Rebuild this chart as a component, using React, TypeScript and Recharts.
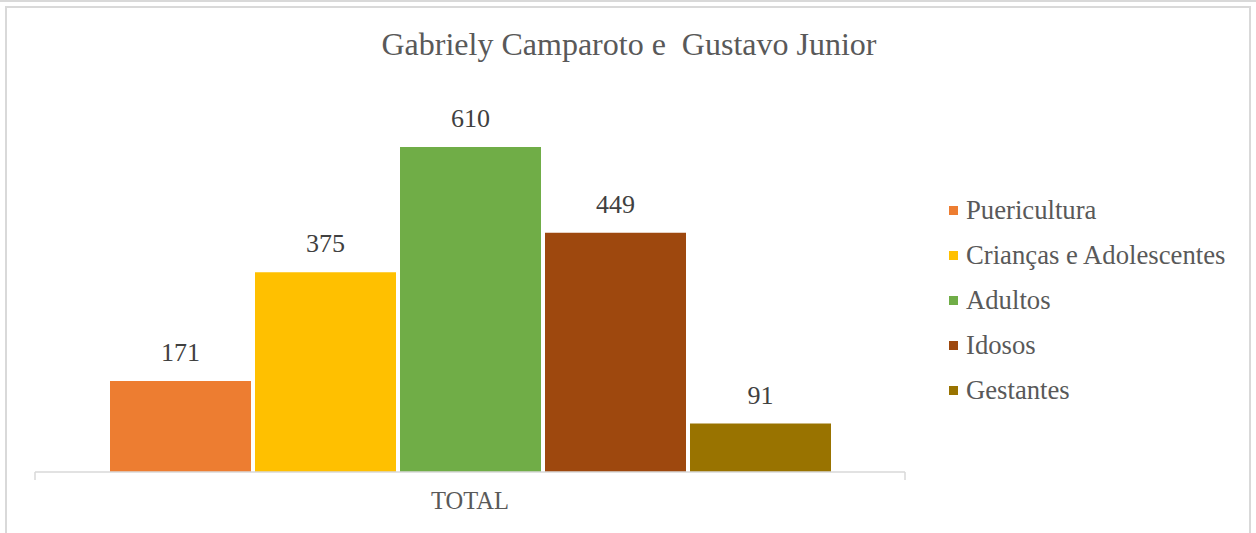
import React from "react";
import { BarChart, Bar, XAxis, YAxis, Legend, LabelList, usePlotArea } from "recharts";

const categories = ["TOTAL"];
const seriesNames = ["Puericultura", "Crianças e Adolescentes", "Adultos", "Idosos", "Gestantes"];
const seriesKeys = ["puericultura", "criancas", "adultos", "idosos", "gestantes"];
const seriesValues = [171, 375, 610, 449, 91];
const seriesColors = ["#ED7D31", "#FFC000", "#70AD47", "#9E480E", "#997300"];
const title = "Gabriely Camparoto e  Gustavo Junior";

const data = categories.map((c) => {
  const row: Record<string, string | number> = { category: c };
  seriesKeys.forEach((k, i) => {
    row[k] = seriesValues[i];
  });
  return row;
});

const FONT = "'Liberation Serif', 'Times New Roman', serif";

function AxisEndTicks() {
  const plot = usePlotArea();
  if (!plot) return null;
  const y = plot.y + plot.height;
  return (
    <g>
      <line x1={plot.x} x2={plot.x} y1={y} y2={y + 8} stroke="#d9d9d9" strokeWidth={1.5} />
      <line x1={plot.x + plot.width} x2={plot.x + plot.width} y1={y} y2={y + 8} stroke="#d9d9d9" strokeWidth={1.5} />
    </g>
  );
}

function LegendContent(props: any) {
  const payload = [...(props.payload || [])].sort(
    (a: any, b: any) => seriesNames.indexOf(a.value) - seriesNames.indexOf(b.value)
  );
  return (
    <div style={{ fontFamily: FONT, fontSize: 26.7, color: "#595959" }}>
      {payload.map((p: any, i: number) => (
        <div key={i} style={{ display: "flex", alignItems: "center", height: 45 }}>
          <span style={{ display: "inline-block", width: 9, height: 9, background: p.color, marginRight: 8 }} />
          <span style={{ whiteSpace: "nowrap" }}>{p.value}</span>
        </div>
      ))}
    </div>
  );
}

export default function App() {
  return (
    <div style={{ position: "absolute", left: 0, top: 0, width: 1256, height: 533, background: "#fff", overflow: "hidden" }}>
      <div style={{ position: "absolute", left: 0, top: 0, width: 1256, height: 2, background: "#d9d9d9" }} />
      <div style={{ position: "absolute", left: 5, top: 6, width: 1246, height: 600, border: "2px solid #d9d9d9", boxSizing: "border-box" }} />
      <div
        style={{
          position: "absolute",
          left: 0,
          top: 22,
          width: 1258,
          textAlign: "center",
          fontFamily: FONT,
          fontSize: 32,
          color: "#595959",
          whiteSpace: "pre",
          lineHeight: "44px",
        }}
      >
        {title}
      </div>
      <div style={{ position: "absolute", left: 0, top: 0 }}>
        <BarChart
          width={1256}
          height={533}
          data={data}
          margin={{ top: 99, right: 351, left: 35, bottom: 21 }}
          barCategoryGap={75}
          barGap={4}
        >
          <XAxis
            dataKey="category"
            height={40}
            axisLine={{ stroke: "#d9d9d9", strokeWidth: 1.5 }}
            tickLine={false}
            tickMargin={14}
            tick={{ fill: "#595959", fontSize: 24.5, fontFamily: FONT }}
          />
          <YAxis hide domain={[0, 700]} />
          <Legend
            layout="vertical"
            align="center"
            verticalAlign="middle"
            wrapperStyle={{ left: 949, top: 188, width: 300 }}
            content={<LegendContent />}
          />
          {seriesKeys.map((k, i) => (
            <Bar key={k} dataKey={k} name={seriesNames[i]} fill={seriesColors[i]} isAnimationActive={false}>
              <LabelList
                dataKey={k}
                position="top"
                offset={20}
                style={{ fill: "#404040", fontSize: 26, fontFamily: FONT }}
              />
            </Bar>
          ))}
          <AxisEndTicks />
        </BarChart>
      </div>
    </div>
  );
}
